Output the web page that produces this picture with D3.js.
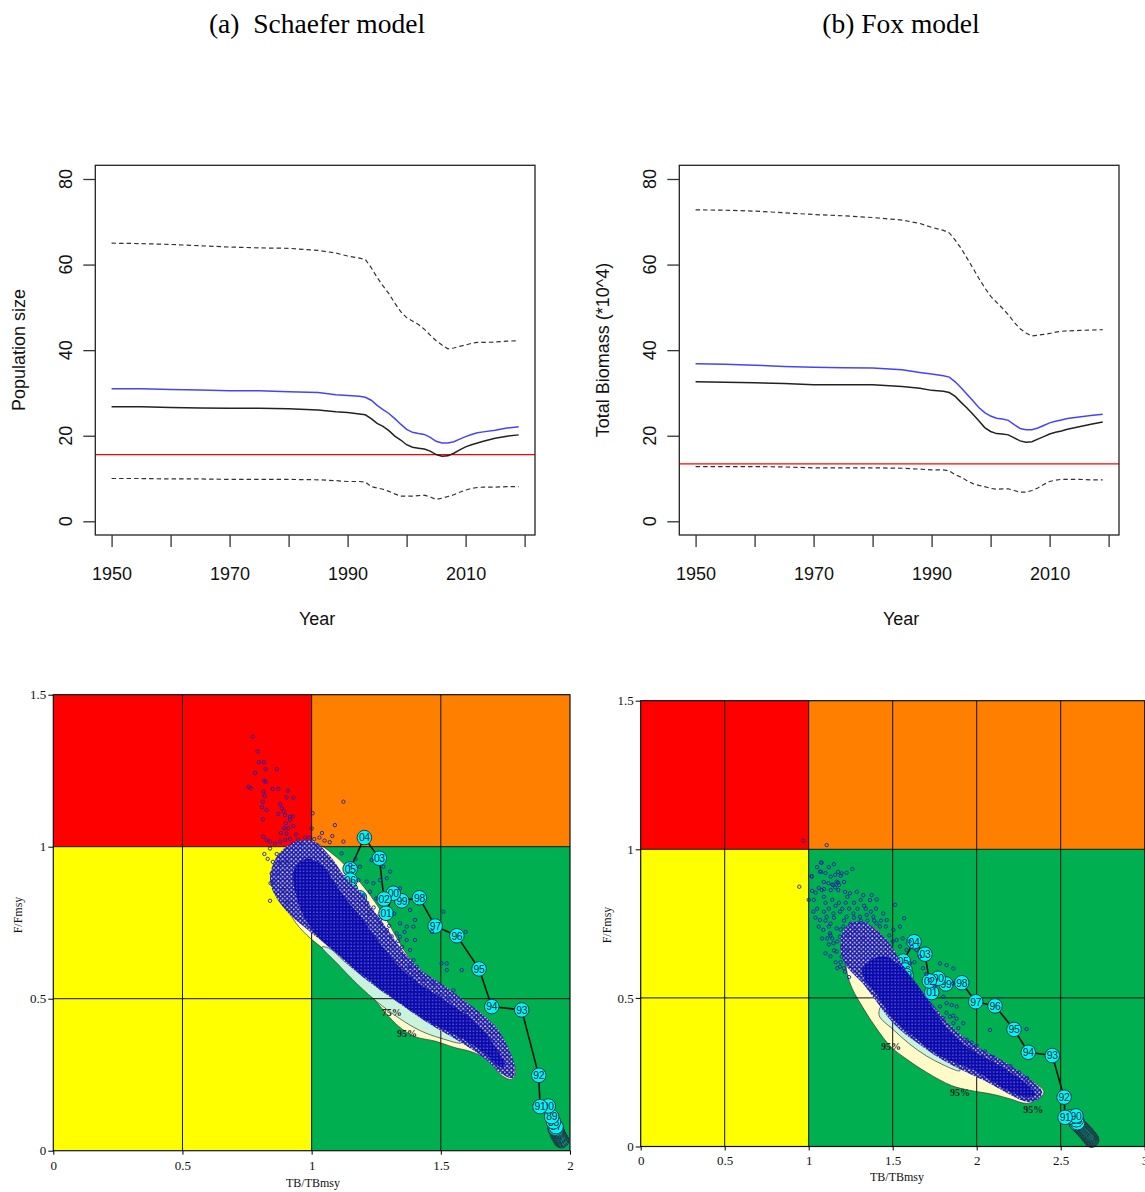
<!DOCTYPE html>
<html>
<head>
<meta charset="utf-8">
<script src="https://cdn.jsdelivr.net/npm/d3@7/dist/d3.min.js"></script>
<style>
  body { margin: 0; background: #fff; }
  .sans { font-family: "Liberation Sans", Arial, sans-serif; }
  .serif { font-family: "Liberation Serif", "Times New Roman", serif; }
</style>
</head>
<body>
<div id="chart"></div>
<script>
// ---- top panels: biomass trajectories ----
const trendYears = [1950, 1955, 1960, 1965, 1970, 1975, 1980, 1985, 1988, 1990, 1992, 1993, 1994, 1995, 1996, 1997, 1998, 1999, 2000, 2001, 2002, 2003, 2004, 2005, 2006, 2007, 2008, 2009, 2010, 2011, 2012, 2013, 2015, 2017, 2019];

const schUpper  = [65.0, 64.9, 64.7, 64.4, 64.1, 63.9, 63.8, 63.3, 62.7, 62.0, 61.5, 61.2, 59.3, 57.0, 55.0, 53.2, 51.0, 49.0, 47.6, 46.8, 46.0, 44.9, 43.5, 42.2, 41.2, 40.3, 40.5, 40.9, 41.2, 41.6, 41.8, 41.8, 41.9, 42.1, 42.2];
const schMean   = [31.0, 31.0, 30.8, 30.7, 30.5, 30.5, 30.3, 30.1, 29.6, 29.4, 29.2, 29.0, 28.3, 27.1, 26.1, 25.2, 24.0, 22.7, 21.5, 20.8, 20.5, 20.3, 19.6, 18.7, 18.3, 18.3, 18.6, 19.2, 19.8, 20.3, 20.7, 20.9, 21.3, 21.8, 22.1];
const schMedian = [26.8, 26.8, 26.6, 26.5, 26.4, 26.4, 26.3, 26.0, 25.6, 25.4, 25.1, 24.9, 24.0, 22.9, 22.2, 21.2, 19.9, 19.0, 17.9, 17.3, 17.1, 16.9, 16.4, 15.6, 15.2, 15.3, 15.9, 16.7, 17.4, 17.9, 18.3, 18.7, 19.4, 19.9, 20.2];
const schLower  = [10.0, 10.0, 9.9, 9.9, 9.8, 9.8, 9.8, 9.7, 9.5, 9.3, 9.3, 9.2, 8.1, 7.8, 7.5, 7.0, 6.4, 5.9, 5.9, 5.9, 6.0, 6.1, 5.7, 5.1, 5.4, 5.8, 6.2, 6.8, 7.3, 7.7, 7.9, 8.0, 8.0, 8.1, 8.1];
const schRef = 15.6;

const foxUpper  = [72.8, 72.7, 72.5, 72.1, 71.7, 71.4, 71.0, 70.4, 69.6, 68.7, 68.0, 67.4, 65.7, 63.8, 61.5, 59.2, 56.8, 54.6, 52.6, 51.2, 49.8, 48.3, 46.5, 45.0, 44.0, 43.3, 43.5, 43.7, 43.9, 44.2, 44.4, 44.5, 44.6, 44.7, 44.8];
const foxMean   = [36.8, 36.7, 36.5, 36.2, 36.0, 35.9, 35.8, 35.4, 34.8, 34.4, 34.0, 33.7, 32.6, 31.2, 29.7, 28.2, 26.6, 25.4, 24.6, 24.1, 23.9, 23.6, 22.6, 21.7, 21.4, 21.4, 21.8, 22.4, 23.0, 23.4, 23.7, 24.0, 24.4, 24.7, 25.0];
const foxMedian = [32.6, 32.5, 32.4, 32.2, 31.9, 31.9, 31.9, 31.5, 31.1, 30.6, 30.4, 30.1, 29.2, 27.8, 26.5, 25.0, 23.5, 21.9, 21.0, 20.5, 20.4, 20.2, 19.5, 18.8, 18.5, 18.6, 19.2, 19.8, 20.4, 20.8, 21.1, 21.5, 22.1, 22.7, 23.2];
const foxLower  = [12.8, 12.8, 12.8, 12.7, 12.5, 12.5, 12.5, 12.4, 12.2, 12.0, 12.0, 11.8, 10.9, 10.3, 9.5, 8.8, 8.4, 8.1, 7.7, 7.5, 7.6, 7.6, 7.2, 6.8, 6.8, 7.2, 7.8, 8.6, 9.3, 9.6, 9.8, 9.8, 9.8, 9.7, 9.7];
const foxRef = 13.4;

const yearTicks = [1950, 1960, 1970, 1980, 1990, 2000, 2010, 2020];
const yearLabels = [1950, 1970, 1990, 2010];
const sizeTicks = [0, 20, 40, 60, 80];

// ---- bottom panels: Kobe plots (TB/TBmsy, F/Fmsy) ----
const schTraj = [
  ["50",1.965,0.035],["51",1.966,0.034],["52",1.964,0.036],["53",1.967,0.033],["54",1.963,0.038],["55",1.965,0.036],
  ["56",1.962,0.040],["57",1.964,0.037],["58",1.960,0.042],["59",1.962,0.040],["60",1.958,0.045],["61",1.960,0.043],
  ["62",1.957,0.047],["63",1.958,0.046],["64",1.955,0.050],["65",1.957,0.048],["66",1.954,0.052],["67",1.956,0.050],
  ["68",1.952,0.055],["69",1.954,0.053],["70",1.951,0.057],["71",1.952,0.056],["72",1.950,0.060],["73",1.951,0.058],
  ["74",1.949,0.062],["75",1.950,0.061],["76",1.948,0.064],["77",1.949,0.063],["78",1.947,0.066],["79",1.948,0.065],
  ["80",1.946,0.068],["81",1.947,0.067],["82",1.945,0.070],["83",1.944,0.072],["84",1.946,0.070],["85",1.942,0.075],
  ["86",1.944,0.074],["87",1.946,0.079],["88",1.936,0.095],["89",1.929,0.112],["90",1.916,0.147],["91",1.884,0.145],
  ["92",1.879,0.248],["93",1.813,0.463],["94",1.697,0.474],["95",1.648,0.598],["96",1.562,0.707],["97",1.478,0.739],
  ["98",1.417,0.832],["99",1.349,0.822],["00",1.316,0.847],["01",1.288,0.781],["02",1.280,0.828],["03",1.262,0.962],
  ["04",1.204,1.030],["05",1.149,0.927],["06",1.149,0.890],["07",1.150,0.860],["08",1.155,0.840],["09",1.160,0.820],
  ["10",1.158,0.805],["11",1.165,0.795],["12",1.170,0.800],["13",1.172,0.810],["14",1.168,0.815],["15",1.175,0.820],
  ["16",1.178,0.825],["17",1.180,0.830],["18",1.182,0.828],["19",1.185,0.832]
];
const foxTraj = [
  ["50",2.684,0.022],["51",2.682,0.023],["52",2.680,0.025],["53",2.678,0.026],["54",2.676,0.028],["55",2.674,0.029],
  ["56",2.672,0.031],["57",2.670,0.032],["58",2.668,0.034],["59",2.666,0.035],["60",2.664,0.037],["61",2.662,0.038],
  ["62",2.660,0.040],["63",2.658,0.041],["64",2.655,0.043],["65",2.652,0.045],["66",2.650,0.046],["67",2.647,0.048],
  ["68",2.644,0.050],["69",2.641,0.051],["70",2.638,0.053],["71",2.636,0.054],["72",2.633,0.056],["73",2.630,0.058],
  ["74",2.627,0.060],["75",2.624,0.061],["76",2.621,0.063],["77",2.618,0.065],["78",2.615,0.066],["79",2.612,0.068],
  ["80",2.609,0.070],["81",2.606,0.071],["82",2.603,0.073],["83",2.600,0.075],["84",2.598,0.076],["85",2.596,0.077],
  ["86",2.594,0.078],["87",2.600,0.080],["88",2.593,0.090],["89",2.560,0.100],["90",2.591,0.103],["91",2.526,0.098],
  ["92",2.520,0.166],["93",2.450,0.306],["94",2.307,0.317],["95",2.222,0.394],["96",2.109,0.473],["97",1.994,0.487],
  ["98",1.911,0.551],["99",1.817,0.547],["00",1.771,0.566],["01",1.732,0.518],["02",1.718,0.557],["03",1.692,0.647],
  ["04",1.627,0.689],["05",1.563,0.624],["06",1.573,0.594],["07",1.565,0.575],["08",1.560,0.565],["09",1.555,0.560],
  ["10",1.552,0.555],["11",1.556,0.552],["12",1.560,0.556],["13",1.564,0.560],["14",1.566,0.563],["15",1.570,0.566],
  ["16",1.572,0.569],["17",1.575,0.571],["18",1.578,0.573],["19",1.580,0.575]
];

// contour lines and outlines of the point cloud, in (TB/TBmsy, F/Fmsy)
const schContour95 = [[0.87,0.93],[0.90,0.99],[0.96,1.01],[1.02,1.01],[1.09,0.97],[1.15,0.92],[1.20,0.87],[1.26,0.80],[1.31,0.73],[1.35,0.67],[1.40,0.61],[1.46,0.56],[1.53,0.51],[1.60,0.46],[1.66,0.43],[1.70,0.40],[1.74,0.35],[1.775,0.30],[1.79,0.26],[1.775,0.235],[1.74,0.245],[1.68,0.30],[1.62,0.325],[1.55,0.34],[1.48,0.36],[1.40,0.375],[1.35,0.40],[1.30,0.44],[1.21,0.53],[1.12,0.60],[1.05,0.66],[0.98,0.71],[0.93,0.76],[0.89,0.83]];
const schContour75 = [[1.04,0.67],[1.10,0.615],[1.18,0.545],[1.26,0.485],[1.34,0.435],[1.42,0.395],[1.50,0.37],[1.58,0.355],[1.56,0.385],[1.48,0.42],[1.40,0.455],[1.32,0.50],[1.22,0.56],[1.13,0.62],[1.07,0.665]];
const schHalo = [[0.84,0.88],[0.86,0.96],[0.92,1.01],[1.00,1.02],[1.07,0.97],[1.13,0.90],[1.19,0.85],[1.24,0.79],[1.30,0.72],[1.36,0.65],[1.43,0.59],[1.51,0.545],[1.59,0.495],[1.66,0.45],[1.72,0.40],[1.76,0.34],[1.785,0.28],[1.78,0.24],[1.74,0.25],[1.66,0.31],[1.57,0.36],[1.45,0.42],[1.33,0.49],[1.20,0.57],[1.08,0.66],[0.98,0.73],[0.90,0.79]];
const schCore = [[0.93,0.92],[0.98,0.96],[1.04,0.94],[1.09,0.88],[1.14,0.82],[1.19,0.77],[1.24,0.71],[1.29,0.655],[1.34,0.605],[1.40,0.56],[1.47,0.52],[1.54,0.48],[1.61,0.44],[1.67,0.39],[1.72,0.33],[1.75,0.28],[1.73,0.275],[1.67,0.32],[1.60,0.36],[1.52,0.395],[1.44,0.43],[1.36,0.475],[1.27,0.53],[1.18,0.59],[1.09,0.655],[1.02,0.71],[0.97,0.77],[0.94,0.84]];

const foxContour95 = [[1.22,0.64],[1.24,0.70],[1.30,0.745],[1.38,0.74],[1.45,0.70],[1.51,0.64],[1.57,0.58],[1.64,0.51],[1.72,0.46],[1.80,0.40],[1.90,0.355],[2.00,0.32],[2.08,0.295],[2.15,0.275],[2.25,0.245],[2.33,0.22],[2.40,0.185],[2.38,0.165],[2.30,0.145],[2.20,0.16],[2.10,0.175],[1.95,0.19],[1.85,0.205],[1.70,0.25],[1.58,0.295],[1.49,0.335],[1.40,0.40],[1.32,0.47],[1.26,0.53],[1.23,0.58]];
const foxContour75 = [[1.42,0.44],[1.50,0.395],[1.60,0.345],[1.70,0.305],[1.80,0.275],[1.90,0.255],[1.88,0.285],[1.78,0.31],[1.68,0.345],[1.58,0.385],[1.49,0.43],[1.43,0.47]];
const foxHalo = [[1.19,0.66],[1.20,0.72],[1.26,0.755],[1.33,0.755],[1.41,0.725],[1.48,0.685],[1.54,0.63],[1.60,0.575],[1.67,0.525],[1.75,0.47],[1.83,0.415],[1.92,0.37],[2.02,0.33],[2.12,0.30],[2.22,0.265],[2.32,0.225],[2.39,0.185],[2.37,0.16],[2.30,0.15],[2.18,0.18],[2.05,0.22],[1.92,0.255],[1.80,0.29],[1.68,0.335],[1.57,0.38],[1.48,0.43],[1.40,0.49],[1.32,0.55],[1.25,0.59],[1.21,0.62]];
const foxCore = [[1.32,0.60],[1.38,0.63],[1.45,0.64],[1.52,0.62],[1.58,0.59],[1.64,0.55],[1.70,0.50],[1.76,0.45],[1.82,0.40],[1.90,0.355],[2.00,0.315],[2.10,0.285],[2.20,0.25],[2.30,0.21],[2.35,0.175],[2.30,0.165],[2.18,0.19],[2.05,0.235],[1.98,0.257],[1.88,0.28],[1.78,0.305],[1.68,0.345],[1.58,0.39],[1.50,0.43],[1.44,0.48],[1.38,0.53],[1.33,0.565]];

// scattered bootstrap points outside the dense part of the cloud
const schPoints = [
  [0.772,1.362],[0.791,1.313],[0.796,1.278],[0.815,1.278],[0.781,1.243],[0.822,1.255],[0.865,1.255],[0.816,1.217],[0.822,1.214],[0.756,1.197],
  [0.764,1.192],[0.849,1.190],[0.871,1.190],[0.814,1.181],[0.818,1.167],[0.908,1.184],[0.903,1.162],[0.929,1.162],[0.811,1.148],[0.808,1.130],
  [0.826,1.121],[0.878,1.140],[0.884,1.126],[0.891,1.118],[0.871,1.108],[0.897,1.104],[0.916,1.098],[0.927,1.100],[0.811,1.090],[0.900,1.077],
  [0.916,1.088],[0.929,1.068],[0.893,1.060],[0.910,1.060],[0.881,1.045],[0.903,1.043],[0.813,1.033],[0.826,1.022],[0.839,1.017],[0.858,1.011],
  [0.878,1.017],[0.897,1.022],[0.916,1.026],[0.929,1.011],[0.948,1.022],[0.940,1.040],[0.960,1.010],[0.975,1.030],
  [1.123,1.148],[1.004,1.110],[1.090,1.071],[1.123,1.017],[0.990,1.030],[1.010,1.025],[1.030,1.030],[1.050,1.020],[1.020,1.005],[1.070,1.015],
  [1.040,1.045],[1.080,1.035],[1.000,1.060],
  [0.817,0.976],[0.839,0.994],[0.865,0.976],[0.845,0.912],[0.841,0.880],[0.851,0.882],[0.839,0.822],[0.906,0.819],[0.891,0.858],[0.878,0.946],
  [0.903,0.951],[0.868,0.912],[0.850,0.950],[0.830,0.960],
  [1.232,0.956],[1.116,0.978],[1.213,0.885],[1.239,0.880],[1.265,0.890],[1.291,0.896],[1.342,0.863],[1.381,0.792],[1.400,0.759],[1.394,0.737],
  [1.368,0.737],[1.342,0.748],[1.329,0.715],[1.368,0.693],[1.400,0.693],[1.381,0.660],[1.394,0.627],[1.355,0.638],[1.381,0.605],[1.407,0.605],
  [1.394,0.583],[1.420,0.583],[1.433,0.561],[1.446,0.518],[1.381,0.539],[1.503,0.616],[1.523,0.616],[1.523,0.594],[1.549,0.528],[1.581,0.594],
  [1.510,0.786],[1.465,0.720],[1.342,0.704],[1.316,0.671],[1.497,0.507],[1.420,0.496],[1.381,0.507],[1.278,0.934],[1.304,0.918],[1.187,0.934],
  [1.181,0.890],[1.226,0.852],[1.265,0.759],[1.291,0.726],[1.596,0.720],[1.170,0.960],[1.150,0.940],[1.250,0.830],[1.320,0.780],[1.360,0.720],
  [1.470,0.550],[1.530,0.500],[1.600,0.460],[1.640,0.440],[1.700,0.360],[1.720,0.320],
  [1.200,0.840],[1.215,0.815],[1.240,0.800],[1.225,0.780],[1.255,0.770],[1.270,0.745],[1.300,0.740],[1.310,0.705],[1.335,0.690],[1.350,0.670]
];
const foxPoints = [
  [0.968,1.029],[1.107,1.014],[0.944,0.874],
  [1.073,0.955],[1.073,0.924],[1.018,0.908],[1.131,0.908],[1.174,0.924],[1.190,0.911],[1.141,0.881],[1.174,0.888],[1.157,0.872],[1.091,0.866],
  [1.077,0.955],[1.260,0.934],[1.018,0.910],[1.067,0.925],[1.117,0.886],[1.157,0.914],[1.166,0.891],[1.196,0.919],[1.226,0.921],[1.131,0.863],
  [1.147,0.880],[1.041,0.854],[1.077,0.863],[1.176,0.863],[1.216,0.857],[1.246,0.852],[1.286,0.857],[1.325,0.846],[1.365,0.829],[1.405,0.831],
  [1.375,0.846],[1.028,0.790],[1.067,0.762],[1.107,0.773],[1.147,0.784],[1.186,0.790],[1.226,0.773],[1.266,0.784],[1.305,0.773],[1.345,0.779],
  [1.385,0.773],[1.444,0.784],[1.464,0.762],[1.404,0.751],[1.424,0.740],[1.087,0.729],[1.127,0.717],[1.166,0.734],[1.186,0.706],[1.206,0.740],
  [1.147,0.684],[1.166,0.656],[1.196,0.639],[1.226,0.616],[1.186,0.605],[1.216,0.588],[1.514,0.813],[1.568,0.768],[1.543,0.740],[1.504,0.729],
  [1.523,0.695],[1.543,0.673],[1.583,0.661],[1.613,0.673],[1.642,0.661],[1.662,0.639],[1.603,0.616],[1.781,0.616],[1.821,0.610],[1.861,0.599],
  [1.861,0.549],[1.801,0.504],[1.781,0.471],[1.821,0.482],[1.851,0.476],[1.881,0.471],[1.762,0.443],[1.801,0.432],[1.841,0.437],[1.861,0.415],
  [1.891,0.398],[1.831,0.381],[1.920,0.415],[2.079,0.392],[2.297,0.395],[1.940,0.359],[1.900,0.336],[1.960,0.325],
  [1.100,0.820],[1.120,0.800],[1.140,0.830],[1.160,0.810],[1.180,0.820],[1.200,0.800],[1.220,0.820],[1.240,0.800],[1.100,0.760],[1.130,0.750],
  [1.210,0.760],[1.250,0.750],[1.290,0.800],[1.330,0.810],[1.050,0.800],[1.080,0.700],[1.120,0.680],[1.140,0.700],[1.100,0.650],[1.160,0.620],
  [1.200,0.670],[1.230,0.660],[1.480,0.710],[1.500,0.690],[1.560,0.700],[1.600,0.690],[1.630,0.620],[1.680,0.600],[1.700,0.580],[1.720,0.560],
  [1.750,0.540],[1.820,0.450],[1.860,0.440],[1.880,0.430],[1.970,0.350],[2.000,0.340],[2.050,0.320],[2.100,0.300],[2.150,0.280],[2.200,0.270],
  [2.250,0.250],[2.300,0.230],
  [1.030,0.830],[1.060,0.870],[1.090,0.890],[1.120,0.940],[1.150,0.950],[1.180,0.880],[1.210,0.890],[1.230,0.840],[1.270,0.820],[1.310,0.830],
  [1.340,0.800],[1.370,0.790],[1.400,0.800],[1.430,0.760],[1.460,0.740],[1.120,0.740],[1.150,0.770],[1.190,0.730],[1.230,0.710],[1.270,0.770],
  [1.310,0.760],[1.350,0.760],[1.390,0.760],[1.090,0.790],[1.060,0.740],[1.040,0.770],[1.130,0.710],[1.170,0.690],[1.110,0.700],[1.150,0.660],
  [1.190,0.620],[1.210,0.600],[1.240,0.570],[1.170,0.600],[1.130,0.640],[1.280,0.730],[1.320,0.700],[1.090,0.840],[1.020,0.860],[1.000,0.830],
  [1.050,0.940],[1.100,0.920]
];

const schContourLabels = [["75%",1.31,0.456],["95%",1.369,0.387]];
const foxContourLabels = [["95%",1.49,0.335],["95%",1.90,0.183],["95%",2.336,0.126]];

const W = 1145, H = 1192;
const svg = d3.select("#chart").append("svg")
  .attr("width", W)
  .attr("height", H)
  .style("display", "block");

// textures for the point cloud: solid core with fine specks, looser mottled halo
const defs = svg.append("defs");
const dense = defs.append("pattern")
  .attr("id", "dense")
  .attr("patternUnits", "userSpaceOnUse")
  .attr("width", 3.4)
  .attr("height", 3.4);
dense.append("rect").attr("width", 3.4).attr("height", 3.4).attr("fill", "#0a0ab0");
dense.append("circle").attr("cx", 0.9).attr("cy", 0.9).attr("r", 0.55).attr("fill", "#d9d6c8");
const halo = defs.append("pattern")
  .attr("id", "halo")
  .attr("patternUnits", "userSpaceOnUse")
  .attr("width", 4.4)
  .attr("height", 4.4);
halo.append("rect").attr("width", 4.4).attr("height", 4.4).attr("fill", "#1a1ab2");
[[1.1, 1.1, 0.95], [3.3, 3.0, 0.75]].forEach(([cx, cy, r]) => {
  halo.append("circle").attr("cx", cx).attr("cy", cy).attr("r", r).attr("fill", "#f2ecc4");
});

// titles
svg.append("text").attr("class", "serif")
  .attr("x", 317).attr("y", 33)
  .attr("text-anchor", "middle")
  .attr("font-size", 27.5)
  .style("white-space", "pre")
  .text("(a)  Schaefer model");
svg.append("text").attr("class", "serif")
  .attr("x", 901).attr("y", 33)
  .attr("text-anchor", "middle")
  .attr("font-size", 27.5)
  .text("(b) Fox model");

const drawTrend = (left, right, upper, mean, median, lower, ref, yTitle, yTitleX) => {
  const top = 165.3, bottom = 535;
  const x = d3.scaleLinear().domain([1947.24, 2021.76]).range([left, right]);
  const y = d3.scaleLinear().domain([-3.2, 83.2]).range([bottom, top]);
  const g = svg.append("g").attr("class", "sans");
  const line = d3.line().x((d, i) => x(trendYears[i])).y(d => y(d));

  g.append("line")
    .attr("x1", left).attr("x2", right)
    .attr("y1", y(ref)).attr("y2", y(ref))
    .attr("stroke", "#ff0000").attr("stroke-width", 1.3);

  [[upper, "#333", "4.5,3", 1.2], [lower, "#333", "4.5,3", 1.2],
   [median, "#222", null, 1.5], [mean, "#4444ff", null, 1.5]].forEach(([vals, col, dash, w]) => {
    g.append("path")
      .datum(vals)
      .attr("d", line)
      .attr("fill", "none")
      .attr("stroke", col)
      .attr("stroke-width", w)
      .attr("stroke-dasharray", dash);
  });

  g.append("rect")
    .attr("x", left).attr("y", top)
    .attr("width", right - left).attr("height", bottom - top)
    .attr("fill", "none").attr("stroke", "#222").attr("stroke-width", 1.3);

  const xa = g.append("g")
    .attr("transform", `translate(0,${bottom})`)
    .call(d3.axisBottom(x).tickValues(yearTicks).tickSize(12).tickPadding(20)
      .tickFormat(d => yearLabels.includes(d) ? d : ""));
  xa.select(".domain").remove();
  xa.selectAll("line").attr("stroke", "#333").attr("stroke-width", 1.3);
  xa.selectAll("text").attr("font-size", 18).attr("fill", "#111")
    .attr("font-family", "Liberation Sans, Arial, sans-serif");

  const ya = g.append("g")
    .attr("transform", `translate(${left},0)`)
    .call(d3.axisLeft(y).tickValues(sizeTicks).tickSize(12).tickFormat(""));
  ya.select(".domain").remove();
  ya.selectAll("line").attr("stroke", "#333").attr("stroke-width", 1.3);

  g.selectAll(".ylab")
    .data(sizeTicks)
    .enter()
    .append("text")
    .attr("class", "ylab")
    .attr("transform", d => `translate(${left - 23.5},${y(d)}) rotate(-90)`)
    .attr("text-anchor", "middle")
    .attr("font-size", 18)
    .attr("fill", "#111")
    .text(d => d);

  g.append("text")
    .attr("x", (left + right) / 2 + 2).attr("y", 625)
    .attr("text-anchor", "middle")
    .attr("font-size", 18)
    .attr("fill", "#111")
    .text("Year");

  g.append("text")
    .attr("transform", `translate(${yTitleX},350) rotate(-90)`)
    .attr("text-anchor", "middle")
    .attr("font-size", 18)
    .attr("fill", "#111")
    .text(yTitle);
};

drawTrend(95.3, 535, schUpper, schMean, schMedian, schLower, schRef, "Population size", 25);
drawTrend(679.3, 1119, foxUpper, foxMean, foxMedian, foxLower, foxRef, "Total Biomass (*10^4)", 609);

const drawKobe = (cfg) => {
  const x = d3.scaleLinear().domain([0, cfg.xMax]).range([cfg.left, cfg.right]);
  const y = d3.scaleLinear().domain([0, 1.5]).range([cfg.bottom, cfg.top]);
  const g = svg.append("g").attr("class", "serif");
  const shape = d3.line().x(d => x(d[0])).y(d => y(d[1])).curve(d3.curveCatmullRomClosed.alpha(0.5));

  const zones = [
    [0, 1, 1, 1.5, "#ff0000"],
    [1, cfg.xMax, 1, 1.5, "#ff8000"],
    [0, 1, 0, 1, "#ffff00"],
    [1, cfg.xMax, 0, 1, "#00b050"]
  ];
  g.selectAll(".zone")
    .data(zones)
    .enter()
    .append("rect")
    .attr("class", "zone")
    .attr("x", d => x(d[0]))
    .attr("y", d => y(d[3]))
    .attr("width", d => x(d[1]) - x(d[0]))
    .attr("height", d => y(d[2]) - y(d[3]))
    .attr("fill", d => d[4]);

  g.append("path").datum(cfg.c95).attr("d", shape)
    .attr("fill", "#fffbc9").attr("stroke", "#333").attr("stroke-width", 0.7);
  g.append("path").datum(cfg.c75).attr("d", shape)
    .attr("fill", "#c9f3dc").attr("stroke", "#333").attr("stroke-width", 0.7);

  // reference grid
  g.selectAll(".vgrid")
    .data(cfg.xTicks.filter(v => v > 0 && v < cfg.xMax))
    .enter()
    .append("line")
    .attr("x1", d => x(d)).attr("x2", d => x(d))
    .attr("y1", cfg.top).attr("y2", cfg.bottom)
    .attr("stroke", "#111").attr("stroke-width", 1);
  g.selectAll(".hgrid")
    .data([0.5, 1])
    .enter()
    .append("line")
    .attr("x1", cfg.left).attr("x2", cfg.right)
    .attr("y1", d => y(d)).attr("y2", d => y(d))
    .attr("stroke", "#111").attr("stroke-width", 1);

  // stock trajectory
  g.append("path")
    .datum(cfg.traj)
    .attr("d", d3.line().x(d => x(d[1])).y(d => y(d[2])))
    .attr("fill", "none").attr("stroke", "#111").attr("stroke-width", 1.6);
  const pts = g.selectAll(".yr")
    .data(cfg.traj)
    .enter()
    .append("g")
    .attr("class", "yr")
    .attr("transform", d => `translate(${x(d[1])},${y(d[2])})`);
  pts.append("circle").attr("r", 7.3)
    .attr("fill", "#00f5ff").attr("stroke", "#1b3b3b").attr("stroke-width", 1);
  pts.append("text")
    .attr("class", "sans")
    .attr("text-anchor", "middle")
    .attr("dy", "0.36em")
    .attr("font-size", 10.5)
    .attr("letter-spacing", -0.4)
    .attr("fill", "#0b2a2a")
    .text(d => d[0]);

  // point cloud drawn over the trajectory
  g.append("path").datum(cfg.halo).attr("d", shape).attr("fill", "url(#halo)");
  g.append("path").datum(cfg.core).attr("d", shape).attr("fill", "url(#dense)");
  g.selectAll(".pt")
    .data(cfg.points)
    .enter()
    .append("circle")
    .attr("cx", d => x(d[0]))
    .attr("cy", d => y(d[1]))
    .attr("r", 1.7)
    .attr("fill", "none")
    .attr("stroke", "#1f1fa8")
    .attr("stroke-width", 0.9);

  g.selectAll(".clab")
    .data(cfg.labels)
    .enter()
    .append("text")
    .attr("x", d => x(d[1]))
    .attr("y", d => y(d[2]))
    .attr("text-anchor", "middle")
    .attr("dy", "0.35em")
    .attr("font-size", 10)
    .attr("font-weight", "bold")
    .attr("fill", "#222")
    .text(d => d[0]);

  // frame and axes
  g.append("rect")
    .attr("x", cfg.left).attr("y", cfg.top)
    .attr("width", cfg.right - cfg.left).attr("height", cfg.bottom - cfg.top)
    .attr("fill", "none").attr("stroke", "#111").attr("stroke-width", 1.2);

  const fmt = d => d3.format("")(d);
  const xa = g.append("g")
    .attr("transform", `translate(0,${cfg.bottom})`)
    .call(d3.axisBottom(x).tickValues(cfg.xTicks).tickSize(4).tickPadding(cfg.xPad).tickFormat(fmt));
  xa.select(".domain").remove();
  xa.selectAll("text").attr("font-size", 13).attr("fill", "#111")
    .attr("font-family", "Liberation Serif, Times New Roman, serif");
  const ya = g.append("g")
    .attr("transform", `translate(${cfg.left},0)`)
    .call(d3.axisLeft(y).tickValues([0, 0.5, 1, 1.5]).tickSize(5).tickPadding(2).tickFormat(fmt));
  ya.select(".domain").remove();
  ya.selectAll("text").attr("font-size", 13).attr("fill", "#111")
    .attr("font-family", "Liberation Serif, Times New Roman, serif");

  g.append("text")
    .attr("x", cfg.xTitle[0]).attr("y", cfg.xTitle[1])
    .attr("text-anchor", "middle")
    .attr("font-size", 12)
    .attr("fill", "#111")
    .text("TB/TBmsy");
  g.append("text")
    .attr("transform", `translate(${cfg.yTitle[0]},${cfg.yTitle[1]}) rotate(-90)`)
    .attr("text-anchor", "middle")
    .attr("font-size", 12)
    .attr("fill", "#111")
    .text("F/Fmsy");
};

drawKobe({
  left: 53.3, right: 570, top: 694.7, bottom: 1150.7, xMax: 2,
  xTicks: [0, 0.5, 1, 1.5, 2], xPad: 6,
  c95: schContour95, c75: schContour75, halo: schHalo, core: schCore,
  traj: schTraj, points: schPoints, labels: schContourLabels,
  xTitle: [313, 1187], yTitle: [22, 915]
});
drawKobe({
  left: 640.7, right: 1144.7, top: 700.7, bottom: 1146.5, xMax: 3,
  xTicks: [0, 0.5, 1, 1.5, 2, 2.5, 3], xPad: 5.3,
  c95: foxContour95, c75: foxContour75, halo: foxHalo, core: foxCore,
  traj: foxTraj, points: foxPoints, labels: foxContourLabels,
  xTitle: [897, 1181], yTitle: [611, 925]
});
</script>
</body>
</html>
